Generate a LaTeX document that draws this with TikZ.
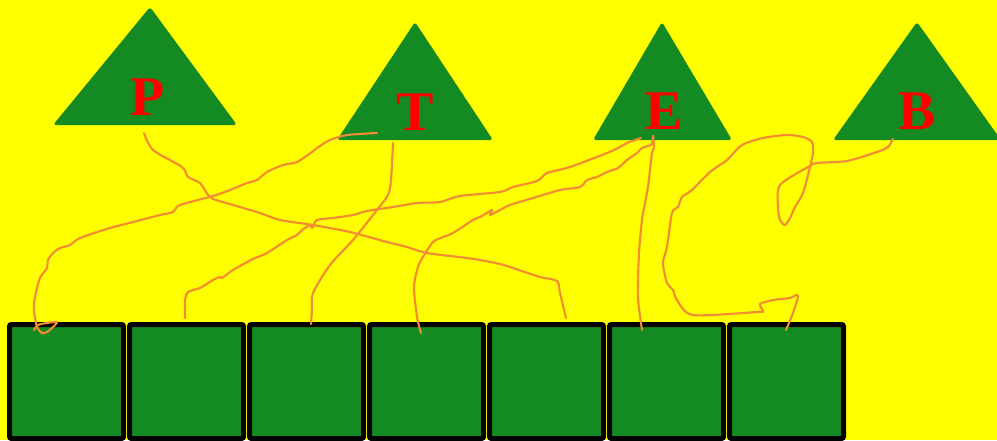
\documentclass[tikz,border=0pt]{standalone}
\usepackage{fontspec}
\setmainfont{Liberation Serif}
\definecolor{bgyellow}{RGB}{255,255,0}
\definecolor{leafgreen}{RGB}{19,138,34}
\definecolor{wireorange}{RGB}{242,139,52}
\definecolor{letterred}{RGB}{255,0,0}
\tikzset{
  tri/.style={fill=leafgreen, rounded corners=3pt},
  letter/.style={text=letterred, font=\bfseries\fontsize{56}{56}\selectfont, inner sep=0pt, anchor=base},
  sq/.style={draw=black, fill=leafgreen, line width=5pt, minimum size=114pt, inner sep=0pt, rounded corners=2pt},
  wire/.style={draw=wireorange, line width=2.1pt, line join=round, line cap=round}
}
\begin{document}
\begin{tikzpicture}[x=1pt,y=-1pt]
\useasboundingbox (0,0) rectangle (997,440);
\clip (0,0) rectangle (997,440);
\fill[bgyellow] (0,0) rectangle (997,440);
% triangles
\fill[tri] (150,7) -- (237,125) -- (53,125) -- cycle;
\fill[tri] (415,22) -- (493,140) -- (337,140) -- cycle;
\fill[tri] (662,22) -- (732,140) -- (593,140) -- cycle;
\fill[tri] (917,22) -- (1001,140) -- (833,140) -- cycle;
\node[letter] (P) at (148,115) {P};
\node[letter] (T) at (415.5,130) {T};
\node[letter] (E) at (664,129) {E};
\node[letter] (B) at (917.5,129) {B};
% squares
\foreach \i in {0,...,6} {
  \node[sq] (s\i) at (66.5+120*\i,381.5) {};
}
% wires
\draw[wire] plot[smooth, tension=0.45] coordinates {(144,133) (153,150) (182,167) (188,177) (200,183) (208,195) (213,199) (233,205) (260,213) (280,220) (313,225) (350,232) (387,242) (407,247) (427,253) (467,258) (480,260) (500,264) (513,268) (540,277) (557,281) (560,293) (566,318)};
\draw[wire] plot[smooth, tension=0.45] coordinates {(377,133) (347,135) (330,140) (317,148) (312,152) (297,162) (283,165) (267,172) (257,180) (247,183) (230,190) (213,196) (180,205) (173,212) (160,215) (133,222) (110,228) (80,238) (70,245) (60,248) (53,253) (48,260) (47,268) (40,278) (35,297) (34,310) (37,327) (42,333) (47,332) (53,327) (57,322) (47,323) (38,325) (34,330)};
\draw[wire] plot[smooth, tension=0.45] coordinates {(185,318) (185,300) (188,292) (200,288) (213,280) (220,277) (222,278) (233,270) (253,259) (267,253) (287,240) (297,235) (302,230) (310,225) (312,228) (317,220) (333,218) (353,215) (367,211) (393,207) (417,203) (440,202) (460,196) (500,192) (513,187) (537,181) (547,173) (570,167) (607,153) (620,147) (627,143) (641,138)};
\draw[wire] plot[smooth, tension=0.45] coordinates {(393,143) (391,180) (388,195) (377,210) (353,240) (330,265) (313,293) (312,310) (311,324)};
\draw[wire] plot[smooth, tension=0.45] coordinates {(421,333) (417,317) (414,287) (418,267) (423,257) (433,242) (443,237) (453,233) (473,220) (480,217) (492,210) (490,215) (500,210) (510,205) (533,198) (560,190) (580,187) (587,180) (597,177) (607,172) (618,168) (627,160) (637,153) (642,148) (648,146) (652,144) (653,136)};
\draw[wire] plot[smooth, tension=0.45] coordinates {(653,136) (654,148) (652,153) (648,187) (645,203) (642,220) (639,253) (638,297) (642,330)};
\draw[wire] plot[smooth, tension=0.45] coordinates {(893,139) (888,147) (877,152) (847,161) (817,163) (808,167) (780,185) (778,207) (780,220) (785,225) (790,218) (795,207) (803,193) (810,167) (813,153) (812,142) (803,137) (787,135) (763,138) (742,145) (727,160) (710,172) (692,190) (682,197) (678,207) (672,213) (667,247) (663,263) (667,283) (673,290) (677,300) (693,315) (757,312) (763,311) (760,304) (773,300) (790,298) (796,295) (798,297) (793,313) (786,330)};
\end{tikzpicture}
\end{document}
